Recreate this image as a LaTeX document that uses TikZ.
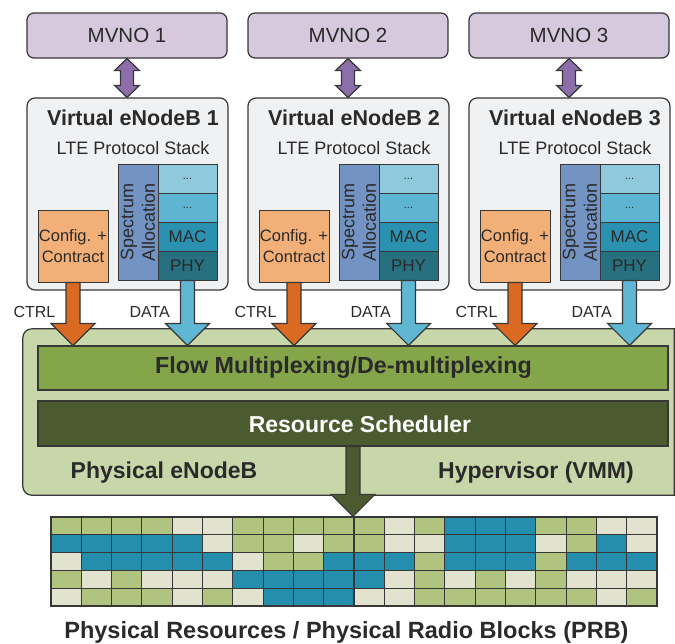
\documentclass[tikz,border=0pt]{standalone}
\usepackage{fontspec}
\setmainfont{Liberation Sans}
\usetikzlibrary{calc}
\definecolor{mvnofill}{RGB}{214, 201, 222}
\definecolor{mvnoarrow}{RGB}{140, 111, 170}
\definecolor{venbfill}{RGB}{240, 241, 243}
\definecolor{configorange}{RGB}{242, 175, 120}
\definecolor{spectrumblue}{RGB}{115, 147, 194}
\definecolor{layertop}{RGB}{143, 201, 220}
\definecolor{layermid}{RGB}{93, 181, 210}
\definecolor{macblue}{RGB}{42, 145, 176}
\definecolor{phyblue}{RGB}{38, 112, 127}
\definecolor{ctrlorange}{RGB}{218, 106, 34}
\definecolor{datablue}{RGB}{95, 183, 212}
\definecolor{physgreen}{RGB}{200, 215, 169}
\definecolor{flowgreen}{RGB}{132, 165, 74}
\definecolor{schedgreen}{RGB}{75, 90, 47}
\definecolor{prbG}{RGB}{177, 196, 127}
\definecolor{prbB}{RGB}{38, 142, 173}
\definecolor{prbC}{RGB}{225, 227, 206}
\definecolor{textgray}{RGB}{42, 42, 42}
\definecolor{edgegray}{RGB}{55, 55, 55}

% fat block arrow pointing down: start, tip, fill, label
\newcommand{\fatdown}[4]{%
  \draw[fatarrow, fill=#3] let \p1=(#1), \p2=(#2) in
    (\x1-7pt,\y1) -- (\x1-7pt,\y2+22pt) -- (\x1-22pt,\y2+22pt) -- (\x1,\y2)
    -- (\x1+22pt,\y2+22pt) -- (\x1+7pt,\y2+22pt) -- (\x1+7pt,\y1) -- cycle
    node[flowlabel, anchor=east] at (\x1-17pt,\y2+33pt) {#4};}
% fat double arrow: top, bottom
\newcommand{\fatdouble}[2]{%
  \draw[fatarrow, fill=mvnoarrow] let \p1=(#1), \p2=(#2) in
    (\x1,\y1) -- (\x1+12.5pt,\y1-12pt) -- (\x1+6.5pt,\y1-12pt) -- (\x1+6.5pt,\y2+12pt)
    -- (\x1+12.5pt,\y2+12pt) -- (\x1,\y2) -- (\x1-12.5pt,\y2+12pt) -- (\x1-6.5pt,\y2+12pt)
    -- (\x1-6.5pt,\y1-12pt) -- (\x1-12.5pt,\y1-12pt) -- cycle;}

\begin{document}
\begin{tikzpicture}[
        x=1pt, y=-1pt,
        mvno/.style={rectangle, rounded corners=7pt, draw=edgegray, line width=1.2pt, fill=mvnofill, minimum width=200pt, minimum height=45pt, text=textgray, font=\fontsize{20.5pt}{24pt}\selectfont},
        venb/.style={rectangle, rounded corners=8pt, draw=edgegray, line width=1.2pt, fill=venbfill, minimum width=201pt, minimum height=192pt},
        venbtitle/.style={text=textgray, font=\bfseries\fontsize{21.5pt}{24pt}\selectfont},
        stacktitle/.style={text=textgray, font=\fontsize{18pt}{21pt}\selectfont},
        config/.style={rectangle, draw=edgegray, line width=1pt, fill=configorange, minimum width=70pt, minimum height=72pt, inner sep=0pt, align=center, text=textgray, font=\fontsize{16.5pt}{21pt}\selectfont},
        spectrum/.style={rectangle, draw=edgegray, line width=1pt, fill=spectrumblue, minimum width=116pt, minimum height=40pt, inner sep=0pt, rotate=90, align=center, text=textgray, font=\fontsize{18pt}{21.5pt}\selectfont},
        layer/.style={rectangle, draw=edgegray, line width=1pt, minimum width=59pt, minimum height=29pt, inner sep=0pt, text=textgray, font=\fontsize{17pt}{20pt}\selectfont},
        dots/.style={layer, font=\fontsize{11pt}{12pt}\selectfont},
        fatarrow/.style={draw=edgegray, line width=1.2pt, line join=miter},
        flowlabel/.style={text=textgray, inner sep=0pt, font=\fontsize{16pt}{18pt}\selectfont},
        physline/.style={draw=edgegray, line width=1.2pt, fill=physgreen},
        bar/.style={rectangle, draw=edgegray, line width=1.2pt, minimum width=630pt, minimum height=44pt},
        bigtext/.style={text=textgray, font=\bfseries\fontsize{23pt}{26pt}\selectfont},
        prbcell/.style={draw=edgegray, line width=1.1pt}
    ]
    \useasboundingbox (0,0) rectangle (675,643);

    % Physical eNodeB / hypervisor
    \node[minimum width=651pt, minimum height=166pt, inner sep=0pt] (phys) at (348.5,412) {};
    \draw[physline] (phys.north east) -- ([xshift=9pt]phys.north west)
        arc[start angle=90, end angle=180, radius=9pt] -- ([yshift=9pt]phys.south west)
        arc[start angle=180, end angle=270, radius=9pt] -- (phys.south east) -- cycle;
    \node[bar, fill=flowgreen] (flow) at (353,368) {};
    \node[bar, fill=schedgreen, minimum height=45pt] (sched) at (353,423.5) {};
    \node[bigtext, font=\bfseries\fontsize{23.3pt}{26pt}\selectfont] (flowtext) at (343.5,368) {Flow Multiplexing/De-multiplexing};
    \node[bigtext, text=white] (schedtext) at (360,424) {Resource Scheduler};
    \node[bigtext] (physlabel) at (164,473) {Physical eNodeB};
    \node[bigtext] (hyplabel) at (536,473) {Hypervisor (VMM)};

    % MVNOs and virtual eNodeBs
    \foreach \i/\L in {1/27, 2/248, 3/469} {
        \node[mvno] (mvno\i) at (\L+100,35.5) {MVNO \i};
        \node[venb] (venb\i) at (\L+100.5,194) {};
        \node[venbtitle] (title\i) at (\L+106,118) {Virtual eNodeB \i};
        \node[stacktitle] (lte\i) at (\L+106,148) {LTE Protocol Stack};
        \node[config] (config\i) at (\L+46,246) {Config. +\\Contract};
        \node[spectrum] (spec\i) at (\L+111,222) {Spectrum\\Allocation};
        \node[dots, fill=layertop] (top\i) at (\L+160.5,178.5) {...};
        \node[dots, fill=layermid] (mid\i) at (\L+160.5,207.5) {...};
        \node[layer, fill=macblue] (mac\i) at (\L+160.5,236.5) {MAC};
        \node[layer, fill=phyblue] (phy\i) at (\L+160.5,265.5) {PHY};
        \fatdouble{mvno\i.south}{venb\i.north}
        \fatdown{config\i.south}{config\i.south |- flow.north}{ctrlorange}{CTRL}
        \fatdown{phy\i.south}{phy\i.south |- flow.north}{datablue}{DATA}
    }

    % Physical radio blocks
    \foreach \cells [count=\r] in {
        {G,G,G,G,C,C,G,G,G,G,G,C,G,B,B,B,G,G,C,C},
        {B,B,B,B,B,C,G,G,C,G,G,C,C,B,B,B,C,G,B,C},
        {C,B,B,B,B,B,C,G,G,B,B,B,G,B,B,B,G,B,B,B},
        {G,C,G,C,C,C,B,B,B,B,B,C,G,C,G,C,G,C,C,C},
        {C,G,G,G,C,G,C,B,B,B,C,C,G,G,G,G,G,G,C,G}} {
        \foreach \c [count=\k] in \cells {
            \draw[prbcell, fill=prb\c] (51+30.3*\k-30.3,517+17.8*\r-17.8) rectangle ++(30.3,17.8);
        }
    }
    \node[draw=edgegray, line width=1.3pt, minimum width=606pt, minimum height=89pt, inner sep=0pt] (prb) at (354,561.5) {};
    \fatdown{sched.south}{prb.north}{schedgreen}{}

    \node[bigtext, font=\bfseries\fontsize{23.5pt}{26pt}\selectfont] (caption) at (346.5,632) {Physical Resources / Physical Radio Blocks (PRB)};
\end{tikzpicture}
\end{document}
